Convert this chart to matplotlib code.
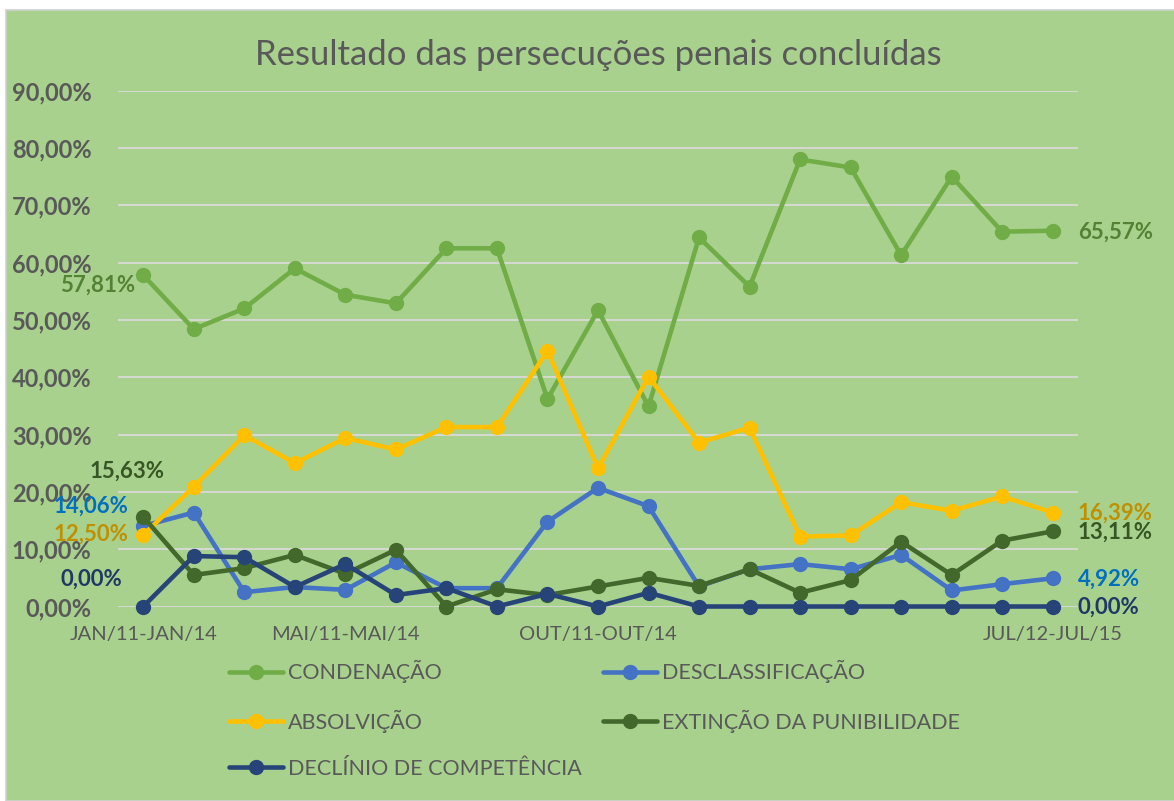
import matplotlib.pyplot as plt
from matplotlib.patches import Rectangle
from matplotlib.ticker import FuncFormatter

plt.rcParams['font.family'] = ['Lato', 'DejaVu Sans']

# 19 moving windows of 36 months, Jan/11-Jan/14 ... Jul/12-Jul/15
periods = list(range(19))
tick_pos = [0, 4, 9, 18]
tick_labels = ['JAN/11-JAN/14', 'MAI/11-MAI/14', 'OUT/11-OUT/14', 'JUL/12-JUL/15']

# values in percent
condenacao = [57.81, 48.4, 52.0, 59.0, 54.4, 52.9, 62.5, 62.5, 36.2, 51.7,
              34.9, 64.4, 55.8, 78.0, 76.6, 61.3, 75.0, 65.4, 65.57]
desclassificacao = [14.06, 16.4, 2.5, 3.4, 2.9, 7.7, 3.2, 3.2, 14.8, 20.7,
                    17.5, 3.5, 6.5, 7.4, 6.5, 9.0, 2.8, 3.9, 4.92]
absolvicao = [12.50, 20.9, 29.9, 25.0, 29.4, 27.4, 31.3, 31.3, 44.6, 24.1,
              40.1, 28.6, 31.2, 12.2, 12.4, 18.2, 16.7, 19.2, 16.39]
extincao = [15.63, 5.5, 6.7, 9.0, 5.7, 9.9, 0.0, 3.0, 2.0, 3.5,
            5.0, 3.6, 6.5, 2.4, 4.6, 11.3, 5.5, 11.5, 13.11]
declinio = [0.0, 8.8, 8.6, 3.4, 7.4, 2.0, 3.2, 0.0, 2.2, 0.0,
            2.4, 0.0, 0.0, 0.0, 0.0, 0.0, 0.0, 0.0, 0.0]

BG = '#A9D18E'
GRAY = '#595959'

def pct(v):
    return ('%.2f%%' % v).replace('.', ',')

fig = plt.figure(figsize=(11.74, 8.01), dpi=100)
fig.patch.set_facecolor('white')
fig.patches.append(Rectangle((6 / 1174, 0), 1, 1 - 10 / 801, transform=fig.transFigure,
                             facecolor=BG, edgecolor='#D0D0D0', lw=1.2, zorder=-10))

ax = fig.add_axes([118 / 1174, 1 - 606.5 / 801, 960 / 1174, 515.8 / 801])
ax.set_facecolor('none')

series = [
    ('CONDENAÇÃO', condenacao, '#70AD47'),
    ('DESCLASSIFICAÇÃO', desclassificacao, '#4472C4'),
    ('ABSOLVIÇÃO', absolvicao, '#FFC000'),
    ('EXTINÇÃO DA PUNIBILIDADE', extincao, '#43682B'),
    ('DECLÍNIO DE COMPETÊNCIA', declinio, '#264478'),
]
handles = {}
for name, vals, col in series:
    ln, = ax.plot(periods, vals, color=col, lw=3.3, marker='o', ms=10,
                  label=name, solid_capstyle='round', clip_on=False, zorder=3)
    handles[name] = ln

ax.set_xlim(-0.5, 18.5)
ax.set_ylim(0, 90)
ax.set_yticks(range(0, 91, 10))
ax.yaxis.set_major_formatter(FuncFormatter(lambda v, p: pct(v)))
ax.set_xticks(tick_pos)
ax.set_xticklabels(tick_labels)
ax.grid(axis='y', color='#D9D9D9', lw=1.3, zorder=1)
ax.set_axisbelow(True)
for s in ax.spines.values():
    s.set_visible(False)
ax.tick_params(axis='both', length=0)
ax.tick_params(axis='y', pad=19, labelsize=17, labelcolor=GRAY)
ax.tick_params(axis='x', pad=14, labelsize=14.5, labelcolor=GRAY)
for t in ax.get_yticklabels():
    t.set_fontweight('bold')

fig.text(598 / 1174, 1 - 55 / 801, 'Resultado das persecuções penais concluídas',
         ha='center', va='center', fontsize=25, color=GRAY)

# data labels at first and last points
lab = dict(fontsize=16, fontweight='bold', textcoords='offset pixels')
ax.annotate(pct(condenacao[0]), (0, condenacao[0]), xytext=(-8, -10), ha='right', va='center', color='#548235', **lab)
ax.annotate(pct(extincao[0]), (0, extincao[0]), xytext=(21, 46), ha='right', va='center', color='#375623', **lab)
ax.annotate(pct(desclassificacao[0]), (0, desclassificacao[0]), xytext=(-15, 20), ha='right', va='center', color='#0070C0', **lab)
ax.annotate(pct(absolvicao[0]), (0, absolvicao[0]), xytext=(-15, 1), ha='right', va='center', color='#BF9000', **lab)
ax.annotate(pct(declinio[0]), (0, declinio[0]), xytext=(-21, 27), ha='right', va='center', color='#1F3864', **lab)

ax.annotate(pct(condenacao[-1]), (18, condenacao[-1]), xytext=(25, -1), ha='left', va='center', color='#548235', **lab)
ax.annotate(pct(absolvicao[-1]), (18, absolvicao[-1]), xytext=(25, -1), ha='left', va='center', color='#BF9000', **lab)
ax.annotate(pct(extincao[-1]), (18, extincao[-1]), xytext=(25, -1), ha='left', va='center', color='#375623', **lab)
ax.annotate(pct(desclassificacao[-1]), (18, desclassificacao[-1]), xytext=(25, -1), ha='left', va='center', color='#0070C0', **lab)
ax.annotate(pct(declinio[-1]), (18, declinio[-1]), xytext=(25, -1), ha='left', va='center', color='#1F3864', **lab)

# legend, filled column-wise so rows read like the original
order = ['CONDENAÇÃO', 'ABSOLVIÇÃO', 'DECLÍNIO DE COMPETÊNCIA', 'DESCLASSIFICAÇÃO', 'EXTINÇÃO DA PUNIBILIDADE']
leg = fig.legend([handles[n] for n in order], order, ncol=2, loc='upper left',
                 bbox_to_anchor=(229 / 1174, 1 - 660 / 801), frameon=False,
                 fontsize=15.5, handlelength=2.5, handletextpad=0.25,
                 columnspacing=0.97, labelspacing=1.22, borderaxespad=0, borderpad=0)
for t in leg.get_texts():
    t.set_color(GRAY)

fig.savefig('out.png', dpi=100, facecolor=fig.get_facecolor())
